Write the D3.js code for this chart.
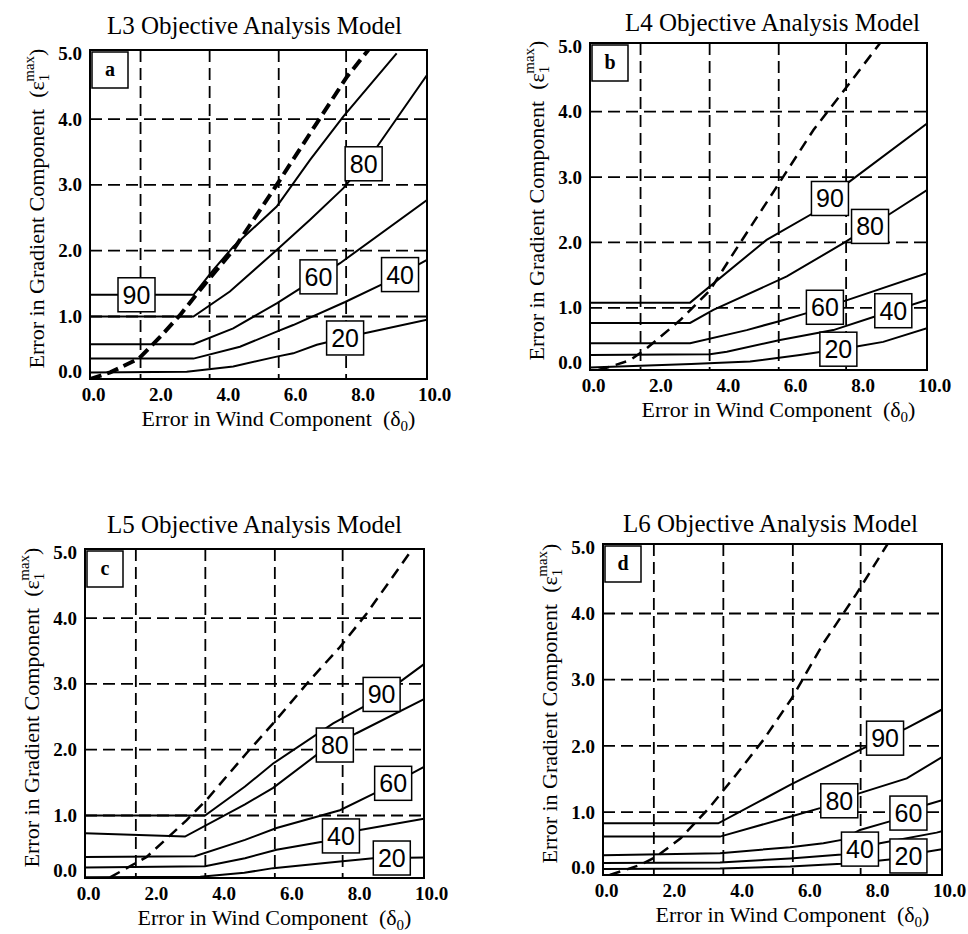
<!DOCTYPE html>
<meta charset="utf-8">
<head>
	<script src="https://cdn.jsdelivr.net/npm/d3@7"></script>
	<style>
		body {
			margin: 0;
			background: #fff;
		}
		text {
			font-family: "Liberation Serif", "Times New Roman", serif;
			fill: #000;
		}
		.frame {
			fill: none;
			stroke: #000;
			stroke-width: 2;
		}
		.grid line {
			stroke: #000;
			stroke-width: 1.8;
			stroke-dasharray: 12, 6;
		}
		.contour {
			fill: none;
			stroke: #000;
			stroke-width: 2;
		}
		.limit {
			fill: none;
			stroke: #000;
		}
		.lbl rect, .letter rect {
			fill: #fff;
			stroke: #000;
			stroke-width: 1.5;
		}
		.lbl text {
			font-family: "Liberation Sans", Arial, sans-serif;
			font-size: 25px;
		}
	</style>
</head>

<body>
	<div id="chart"></div>
</body>

<script type="text/javascript">

	var modelNames = ["L3", "L4", "L5", "L6"];
	var panelLetters = ["a", "b", "c", "d"];
	var levels = [90, 80, 60, 40, 20];
	var xTicks = [0, 2, 4, 6, 8, 10];
	var yTicks = [0, 1, 2, 3, 4, 5];
	var gridX = [1.5, 3.55, 5.6, 7.6];
	var gridY = [1, 2, 3, 4];

	// contours as [wind error, gradient error] pairs
	var l3_90 = [[0, 1.33], [3.07, 1.33], [3.66, 1.71], [4.25, 2.06], [5.54, 2.67], [6.53, 3.38], [7.52, 4.04], [9.1, 5.0]];
	var l3_80 = [[0, 1.0], [3.07, 1.0], [4.15, 1.38], [5.54, 2.01], [6.53, 2.47], [7.52, 2.95], [8.41, 3.5], [10, 4.67]];
	var l3_60 = [[0, 0.58], [3.07, 0.58], [4.25, 0.82], [5.54, 1.2], [7.42, 1.81], [10, 2.77]];
	var l3_40 = [[0, 0.36], [3.07, 0.36], [4.45, 0.54], [5.54, 0.77], [6.03, 0.87], [7.57, 1.22], [8.71, 1.5], [10, 1.86]];
	var l3_20 = [[0, 0.15], [2.87, 0.16], [4.25, 0.24], [5.54, 0.39], [6.03, 0.44], [6.73, 0.57], [8.11, 0.74], [10, 0.95]];
	var l3Limit = [[0, 0.05], [0.6, 0.15], [1.45, 0.36], [2.08, 0.69], [2.67, 1.02], [3.26, 1.4], [4.25, 2.01], [5.54, 3.0], [6.73, 3.94], [7.62, 4.64], [8.26, 5.05]];
	var l3LabelAt = [1.38, 8.12, 6.78, 9.2, 7.57];

	var l4_90 = [[0, 1.08], [2.97, 1.08], [5.24, 2.04], [6.63, 2.45], [7.62, 2.9], [10, 3.82]];
	var l4_80 = [[0, 0.77], [2.97, 0.77], [3.66, 0.97], [5.84, 1.48], [7.52, 1.99], [8.85, 2.42], [10, 2.8]];
	var l4_60 = [[0, 0.46], [2.97, 0.46], [4.65, 0.66], [5.64, 0.8], [6.43, 0.92], [7.52, 1.1], [10, 1.53]];
	var l4_40 = [[0, 0.28], [3.56, 0.29], [4.06, 0.33], [5.64, 0.51], [7.22, 0.66], [8.41, 0.86], [10, 1.12]];
	var l4_20 = [[0, 0.09], [3.0, 0.14], [4.75, 0.18], [6.23, 0.28], [7.91, 0.41], [8.7, 0.48], [10, 0.69]];
	var l4Limit = [[0.25, 0.05], [0.6, 0.1], [1.19, 0.2], [1.68, 0.38], [2.67, 0.81], [3.56, 1.27], [4.25, 1.83], [5.54, 2.85], [6.63, 3.72], [7.62, 4.38], [8.61, 5.05]];
	var l4LabelAt = [7.12, 8.31, 6.97, 9.0, 7.37];

	var l5_90 = [[0, 1.0], [3.54, 1.0], [4.72, 1.44], [5.55, 1.79], [7.32, 2.4], [8.21, 2.65], [9.29, 3.03], [10, 3.3]];
	var l5_80 = [[0, 0.73], [2.95, 0.68], [4.72, 1.17], [5.55, 1.42], [6.83, 1.92], [8.01, 2.25], [10, 2.77]];
	var l5_60 = [[0, 0.37], [3.24, 0.38], [4.72, 0.63], [5.65, 0.81], [7.52, 1.08], [8.55, 1.34], [10, 1.74]];
	var l5_40 = [[0, 0.21], [3.54, 0.23], [4.72, 0.35], [5.65, 0.48], [7.0, 0.6], [8.11, 0.78], [10, 0.95]];
	var l5_20 = [[0, 0.06], [3.4, 0.07], [4.7, 0.13], [5.55, 0.2], [7.52, 0.3], [8.5, 0.35], [10, 0.36]];
	var l5Limit = [[0.74, 0.06], [1.82, 0.37], [3.0, 0.93], [3.59, 1.24], [4.77, 1.95], [5.55, 2.4], [6.64, 3.06], [7.52, 3.56], [8.31, 4.07], [9.59, 5.0]];
	var l5LabelAt = [8.75, 7.37, 9.09, 7.55, 9.05];

	var l6_90 = [[0, 0.83], [3.4, 0.83], [5.52, 1.41], [7.58, 1.94], [8.96, 2.27], [10, 2.55]];
	var l6_80 = [[0, 0.63], [3.45, 0.63], [5.52, 0.93], [6.4, 1.06], [7.53, 1.28], [8.96, 1.51], [10, 1.83]];
	var l6_60 = [[0, 0.35], [3.45, 0.38], [5.52, 0.47], [6.5, 0.53], [7.04, 0.58], [7.58, 0.73], [8.46, 0.86], [9.6, 1.12], [10, 1.18]];
	var l6_40 = [[0, 0.23], [3.45, 0.24], [5.52, 0.3], [7.04, 0.36], [8.17, 0.53], [9.84, 0.69], [10, 0.71]];
	var l6_20 = [[0, 0.14], [3.45, 0.15], [5.52, 0.18], [7.04, 0.22], [8.17, 0.27], [8.6, 0.29], [9.55, 0.4], [10, 0.44]];
	var l6Limit = [[0.2, 0.05], [1.09, 0.2], [1.58, 0.33], [2.28, 0.6], [3.16, 1.08], [3.95, 1.58], [4.73, 2.09], [5.57, 2.72], [6.5, 3.55], [7.48, 4.3], [8.42, 5.07]];
	var l6LabelAt = [8.32, 6.97, 9.01, 7.58, 9.01];

	var panels = [
		{ curves: [l3_90, l3_80, l3_60, l3_40, l3_20], limit: l3Limit, labelAt: l3LabelAt },
		{ curves: [l4_90, l4_80, l4_60, l4_40, l4_20], limit: l4Limit, labelAt: l4LabelAt },
		{ curves: [l5_90, l5_80, l5_60, l5_40, l5_20], limit: l5Limit, labelAt: l5LabelAt },
		{ curves: [l6_90, l6_80, l6_60, l6_40, l6_20], limit: l6Limit, labelAt: l6LabelAt }
	];

	// layout of the four plot frames
	var boxes = [
		{ left: 90, top: 50, width: 337, height: 329, limitWidth: 4, titleShift: -4, titleY: -16 },
		{ left: 590, top: 43, width: 337, height: 327, limitWidth: 2.5, titleShift: 14, titleY: -12 },
		{ left: 85, top: 549, width: 339, height: 329, limitWidth: 2.5, titleShift: 0, titleY: -16 },
		{ left: 603, top: 544, width: 339, height: 331, limitWidth: 2.5, titleShift: -2, titleY: -12 }
	];

	function valueAt(pts, v) {
		for (var i = 1; i < pts.length; i++) {
			if (v <= pts[i][0]) {
				var t = (v - pts[i - 1][0]) / (pts[i][0] - pts[i - 1][0]);
				return pts[i - 1][1] + t * (pts[i][1] - pts[i - 1][1]);
			}
		}
		return pts[pts.length - 1][1];
	}

	var svg = d3.select("#chart").append("svg")
		.attr("width", 968)
		.attr("height", 934);

	panels.forEach(function(p, k) {
		var b = boxes[k];
		var w = b.width, h = b.height;

		var x = d3.scaleLinear().domain([0, 10]).range([0, w]);
		var y = d3.scaleLinear().domain([0.05, 5.05]).range([h, 0]);

		var g = svg.append("g")
			.attr("transform", "translate(" + b.left + "," + b.top + ")");

		g.append("clipPath")
			.attr("id", "clip" + k)
			.append("rect")
			.attr("width", w)
			.attr("height", h);

		// title
		g.append("text")
			.attr("x", w / 2 + b.titleShift)
			.attr("y", b.titleY)
			.style("text-anchor", "middle")
			.style("font-size", "25px")
			.text(modelNames[k] + " Objective Analysis Model");

		// dashed grid
		var grid = g.append("g").attr("class", "grid");
		grid.selectAll(".gx")
			.data(gridX)
			.enter().append("line")
			.attr("x1", function(d) { return x(d); })
			.attr("x2", function(d) { return x(d); })
			.attr("y1", 0)
			.attr("y2", h);
		grid.selectAll(".gy")
			.data(gridY)
			.enter().append("line")
			.attr("x1", 0)
			.attr("x2", w)
			.attr("y1", function(d) { return y(d); })
			.attr("y2", function(d) { return y(d); });

		var line = d3.line()
			.x(function(d) { return x(d[0]); })
			.y(function(d) { return y(d[1]); });

		var plot = g.append("g").attr("clip-path", "url(#clip" + k + ")");

		plot.selectAll(".contour")
			.data(p.curves)
			.enter().append("path")
			.attr("class", "contour")
			.attr("d", line);

		plot.append("path")
			.attr("class", "limit")
			.attr("d", line(p.limit))
			.style("stroke-width", b.limitWidth)
			.style("stroke-dasharray", b.limitWidth > 3 ? "12,6" : "11,7");

		// contour labels
		var lbl = g.selectAll(".lbl")
			.data(levels)
			.enter().append("g")
			.attr("class", "lbl")
			.attr("transform", function(d, i) {
				var v = p.labelAt[i];
				return "translate(" + x(v) + "," + y(valueAt(p.curves[i], v)) + ")";
			});
		lbl.append("rect")
			.attr("x", -18.5)
			.attr("y", -17)
			.attr("width", 37)
			.attr("height", 34);
		lbl.append("text")
			.attr("y", 9)
			.style("text-anchor", "middle")
			.text(function(d) { return d; });

		g.append("rect")
			.attr("class", "frame")
			.attr("width", w)
			.attr("height", h);

		// panel letter
		var letter = g.append("g").attr("class", "letter");
		letter.append("rect")
			.attr("x", 2)
			.attr("y", 2)
			.attr("width", 36)
			.attr("height", 36);
		letter.append("text")
			.attr("x", 20)
			.attr("y", 26)
			.style("text-anchor", "middle")
			.style("font-size", "20px")
			.style("font-weight", "bold")
			.text(panelLetters[k]);

		// axes
		var gx = g.append("g")
			.attr("transform", "translate(0," + h + ")")
			.call(d3.axisBottom(x).tickValues(xTicks).tickSize(0).tickFormat(d3.format(".1f")));
		gx.select(".domain").remove();
		gx.selectAll("text")
			.attr("y", 22)
			.attr("dy", 0)
			.attr("dx", function(d) { return d === 10 ? 7 : 3; })
			.style("font-size", "19px")
			.style("font-family", "'Liberation Serif', serif")
			.style("font-weight", "bold");

		var gy = g.append("g")
			.call(d3.axisLeft(y).tickValues(yTicks).tickSize(0).tickPadding(8).tickFormat(d3.format(".1f")));
		gy.select(".domain").remove();
		gy.selectAll("text")
			.attr("y", function(d) { return d === 0 ? -11 : 0; })
			.style("font-size", "19px")
			.style("font-family", "'Liberation Serif', serif")
			.style("font-weight", "bold");

		// axis titles
		var xt = g.append("text")
			.attr("x", w / 2 + 20)
			.attr("y", h + 47)
			.style("text-anchor", "middle")
			.style("font-size", "22px")
			.style("white-space", "pre");
		xt.append("tspan").text("Error in Wind Component  (\u03b4");
		xt.append("tspan").attr("dy", 5).style("font-size", "15px").text("0");
		xt.append("tspan").attr("dy", -5).text(")");

		var yt = g.append("text")
			.attr("transform", "translate(-46," + (h / 2 - 6) + ")rotate(-90)")
			.style("text-anchor", "middle")
			.style("font-size", "22px")
			.style("white-space", "pre");
		yt.append("tspan").text("Error in Gradient Component  (\u03b5");
		yt.append("tspan").attr("dy", 5).style("font-size", "15px").text("1");
		yt.append("tspan").attr("dx", -8).attr("dy", -15).style("font-size", "15px").text("max");
		yt.append("tspan").attr("dy", 10).text(")");
	});
</script>
